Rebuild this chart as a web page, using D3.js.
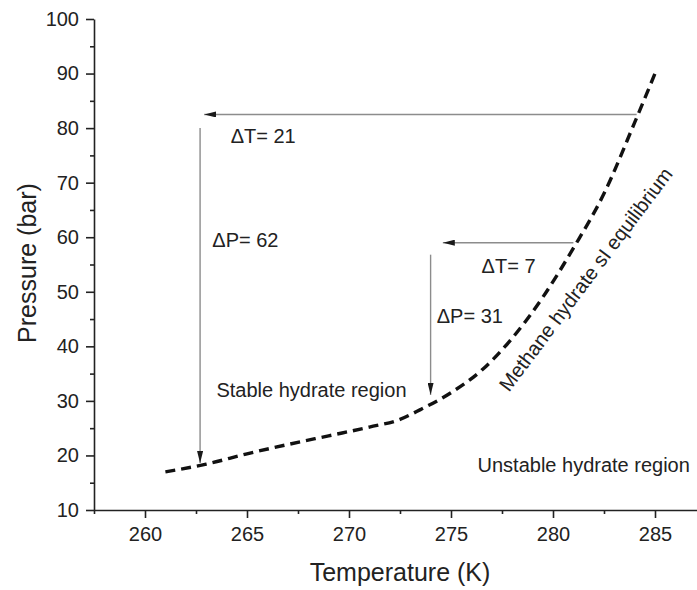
<!DOCTYPE html>
<html lang="en">
  <head>
    <meta charset="UTF-8" />
    <title>Methane hydrate equilibrium</title>
    <script src="https://d3js.org/d3.v7.min.js"></script>
    <style>
      body {
        margin: 0;
        background: #fff;
      }
      svg text {
        font-family: "Liberation Sans", Arial, sans-serif;
        fill: #222;
      }
      .axis path,
      .axis line {
        stroke: #222;
        stroke-width: 1.6px;
      }
      .axis text {
        font-size: 20px;
      }
    </style>
  </head>
  <body>
    <div id="chart"></div>

    <script>
      // equilibrium curve (T in K, P in bar)
      const curveT = [261, 263, 265, 267, 269, 271, 272.5, 273.5, 275, 276.5, 278, 279.5, 281, 282.5, 284, 285];
      const curveP = [17.0, 18.4, 20.3, 22.0, 23.6, 25.2, 26.6, 28.4, 31.5, 35.6, 41.5, 49.0, 58.0, 68.0, 81.0, 90.0];

      const xTicks = [260, 265, 270, 275, 280, 285];
      const yTicks = [10, 20, 30, 40, 50, 60, 70, 80, 90, 100];

      // arrows: start T, start P, end T, end P
      const arrowT0 = [284.1, 262.7, 281.0, 274.0];
      const arrowP0 = [82.5, 80.0, 59.0, 56.8];
      const arrowT1 = [262.9, 262.7, 274.6, 274.0];
      const arrowP1 = [82.5, 18.6, 59.0, 31.1];

      const labels = ["\u0394T= 21", "\u0394P= 62", "\u0394T= 7", "\u0394P= 31", "Stable hydrate region", "Unstable hydrate region"];
      const labelT = [264.2, 263.3, 276.5, 274.3, 263.5, 276.3];
      const labelP = [78.5, 59.5, 54.7, 45.6, 32.0, 18.2];

      const width = 697;
      const height = 590;

      const x = d3.scaleLinear().domain([257.5, 290]).range([94, 94 + 32.5 * 20.4]);
      const y = d3.scaleLinear().domain([10, 100]).range([510, 19]);

      const svg = d3
        .select("#chart")
        .append("svg")
        .attr("width", width)
        .attr("height", height);

      const defs = svg.append("defs");
      defs
        .append("marker")
        .attr("id", "head")
        .attr("viewBox", "0 0 12 6")
        .attr("refX", 12)
        .attr("refY", 3)
        .attr("markerWidth", 12)
        .attr("markerHeight", 6)
        .attr("markerUnits", "userSpaceOnUse")
        .attr("orient", "auto")
        .append("path")
        .attr("d", "M0,0L12,3L0,6Z")
        .attr("fill", "#1a1a1a");

      // minor ticks first
      const minorX = d3.range(257.5, 290.1, 2.5).filter((v) => v % 5 !== 0);
      const minorY = d3.range(15, 100, 10);

      svg
        .append("g")
        .attr("class", "axis")
        .attr("transform", `translate(0,${y(10)})`)
        .call(d3.axisBottom(x).tickValues(minorX).tickSize(4).tickFormat(""))
        .call((g) => g.select(".domain").remove());
      svg
        .append("g")
        .attr("class", "axis")
        .attr("transform", `translate(${x(257.5)},0)`)
        .call(d3.axisLeft(y).tickValues(minorY).tickSize(4).tickFormat(""))
        .call((g) => g.select(".domain").remove());

      svg
        .append("g")
        .attr("class", "axis")
        .attr("transform", `translate(0,${y(10)})`)
        .call(d3.axisBottom(x).tickValues(xTicks).tickSize(8).tickSizeOuter(0).tickPadding(9));
      svg
        .append("g")
        .attr("class", "axis")
        .attr("transform", `translate(${x(257.5)},0)`)
        .call(d3.axisLeft(y).tickValues(yTicks).tickSize(8).tickSizeOuter(0).tickPadding(7));

      svg
        .append("text")
        .attr("x", 400)
        .attr("y", 572)
        .attr("dy", "0.35em")
        .attr("text-anchor", "middle")
        .style("font-size", "25px")
        .text("Temperature (K)");

      svg
        .append("text")
        .attr("transform", "translate(27,263) rotate(-90)")
        .attr("dy", "0.35em")
        .attr("text-anchor", "middle")
        .style("font-size", "25px")
        .text("Pressure (bar)");

      // arrows
      svg
        .append("g")
        .selectAll("line")
        .data(arrowT0.map((t, i) => i))
        .join("line")
        .attr("x1", (i) => x(arrowT0[i]))
        .attr("y1", (i) => y(arrowP0[i]))
        .attr("x2", (i) => x(arrowT1[i]))
        .attr("y2", (i) => y(arrowP1[i]))
        .attr("stroke", "#8c8c8c")
        .attr("stroke-width", 1.4)
        .attr("marker-end", "url(#head)");

      // equilibrium curve
      const line = d3
        .line()
        .x((i) => x(curveT[i]))
        .y((i) => y(curveP[i]))
        .curve(d3.curveMonotoneX);

      svg
        .append("path")
        .datum(curveT.map((t, i) => i))
        .attr("d", line)
        .attr("fill", "none")
        .attr("stroke", "#111")
        .attr("stroke-width", 3.4)
        .attr("stroke-dasharray", "10,6");

      // annotations
      svg
        .append("g")
        .selectAll("text")
        .data(labels)
        .join("text")
        .attr("x", (d, i) => x(labelT[i]))
        .attr("y", (d, i) => y(labelP[i]))
        .attr("dy", "0.35em")
        .style("font-size", "20px")
        .text((d) => d);

      svg
        .append("text")
        .attr("transform", `translate(${x(281.6)},${y(52.3)}) rotate(-53)`)
        .attr("dy", "0.35em")
        .attr("text-anchor", "middle")
        .style("font-size", "20px")
        .text("Methane hydrate sI equilibrium");
    </script>
  </body>
</html>
